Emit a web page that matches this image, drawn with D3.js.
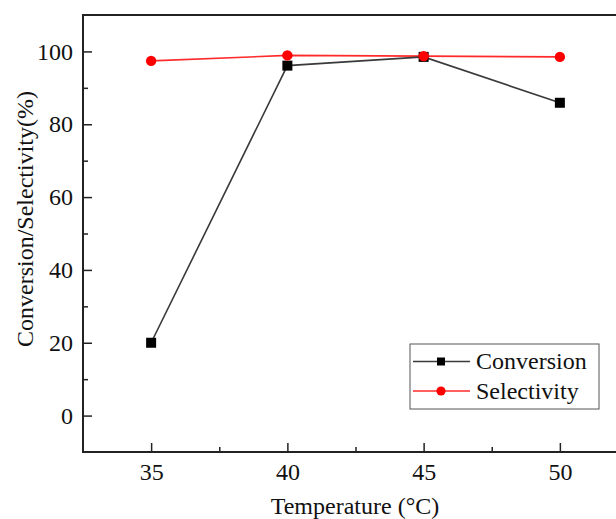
<!DOCTYPE html>
<html>
<head>
<meta charset="utf-8">
<script src="https://cdn.jsdelivr.net/npm/d3@7/dist/d3.min.js"></script>
<style>
  html, body { margin: 0; padding: 0; background: #fff; }
  svg { display: block; }
</style>
</head>
<body>
<svg id="chart" width="616" height="519"></svg>
<script>
// Reaction temperature (°C)
const temperatures = [35, 40, 45, 50];
// Conversion and selectivity (%) at each temperature
const conversion = [20.0, 96.1, 98.5, 85.9];
const selectivity = [97.4, 98.9, 98.7, 98.5];
const xTicks = [35, 40, 45, 50];
const yTicks = [0, 20, 40, 60, 80, 100];
const seriesNames = ["Conversion", "Selectivity"];

const FONT = '"Liberation Serif"';
const FS = "24px";
const TEXT = "#111";
const svg = d3.select("#chart");
const margin = { left: 83, top: 15, right: 628, bottom: 452 };

const x = d3.scaleLinear().domain([32.5, 52.5]).range([margin.left, margin.right]);
const y = d3.scaleLinear().domain([-10, 110]).range([margin.bottom, margin.top]);

// frame
svg.append("rect")
  .attr("x", margin.left).attr("y", margin.top)
  .attr("width", margin.right - margin.left)
  .attr("height", margin.bottom - margin.top)
  .attr("fill", "none").attr("stroke", "#222").attr("stroke-width", 2);

// x axis: major ticks point inward, minor ticks between
const xAxis = d3.axisBottom(x).tickValues(xTicks).tickSize(-9).tickPadding(11).tickFormat(d3.format("d"));
svg.append("g").attr("transform", `translate(0,${margin.bottom})`).call(xAxis);
const xMinor = d3.axisBottom(x).tickValues([37.5, 42.5, 47.5]).tickSize(-5).tickFormat("");
svg.append("g").attr("transform", `translate(0,${margin.bottom})`).call(xMinor);

const yAxis = d3.axisLeft(y).tickValues(yTicks).tickSize(-9).tickPadding(10).tickFormat(d3.format("d"));
svg.append("g").attr("transform", `translate(${margin.left},0)`).call(yAxis);
const yMinor = d3.axisLeft(y).tickValues([10, 30, 50, 70, 90]).tickSize(-5).tickFormat("");
svg.append("g").attr("transform", `translate(${margin.left},0)`).call(yMinor);

svg.selectAll(".domain").remove();
svg.selectAll(".tick line").attr("stroke", "#222").attr("stroke-width", 1.5);
svg.selectAll(".tick text")
  .style("font-family", FONT)
  .style("font-size", FS)
  .attr("fill", TEXT);

// axis titles
svg.append("text")
  .attr("x", 355).attr("y", 514)
  .attr("text-anchor", "middle")
  .style("font-family", FONT).style("font-size", FS).attr("fill", TEXT)
  .text("Temperature (°C)");

svg.append("text")
  .attr("transform", "translate(33,219) rotate(-90)")
  .attr("text-anchor", "middle")
  .style("font-family", FONT).style("font-size", FS).attr("fill", TEXT)
  .text("Conversion/Selectivity(%)");

const line = d3.line().x(d => x(d[0])).y(d => y(d[1]));
const convPts = temperatures.map((t, i) => [t, conversion[i]]);
const selPts = temperatures.map((t, i) => [t, selectivity[i]]);

const convColor = "#3a3a3a";
const selColor = "#ff2a2a";
const markColor = "#000";
const dotColor = "#ff0000";

svg.append("path").datum(selPts).attr("d", line)
  .attr("fill", "none").attr("stroke", selColor).attr("stroke-width", 1.6);
svg.append("path").datum(convPts).attr("d", line)
  .attr("fill", "none").attr("stroke", convColor).attr("stroke-width", 1.6);

svg.selectAll(".sq").data(convPts).enter().append("rect")
  .attr("x", d => x(d[0]) - 5).attr("y", d => y(d[1]) - 5)
  .attr("width", 10).attr("height", 10).attr("fill", markColor);
svg.selectAll(".dot").data(selPts).enter().append("circle")
  .attr("cx", d => x(d[0])).attr("cy", d => y(d[1])).attr("r", 5.2)
  .attr("fill", dotColor);

// legend
const lg = svg.append("g");
lg.append("rect").attr("x", 410).attr("y", 344).attr("width", 189).attr("height", 65)
  .attr("fill", "#fff").attr("stroke", "#555").attr("stroke-width", 1);
const rows = [
  { name: seriesNames[0], color: convColor, mark: "sq", fill: markColor, cy: 361.5 },
  { name: seriesNames[1], color: selColor, mark: "dot", fill: dotColor, cy: 391 }
];
rows.forEach(r => {
  lg.append("line").attr("x1", 413).attr("x2", 470).attr("y1", r.cy).attr("y2", r.cy)
    .attr("stroke", r.color).attr("stroke-width", 1.6);
  if (r.mark === "sq") {
    lg.append("rect").attr("x", 441 - 4).attr("y", r.cy - 4).attr("width", 8).attr("height", 8).attr("fill", r.fill);
  } else {
    lg.append("circle").attr("cx", 441).attr("cy", r.cy).attr("r", 4.6).attr("fill", r.fill);
  }
  lg.append("text").attr("x", 476).attr("y", r.cy + 7.5)
    .style("font-family", FONT).style("font-size", FS).attr("fill", TEXT).text(r.name);
});
</script>
</body>
</html>
